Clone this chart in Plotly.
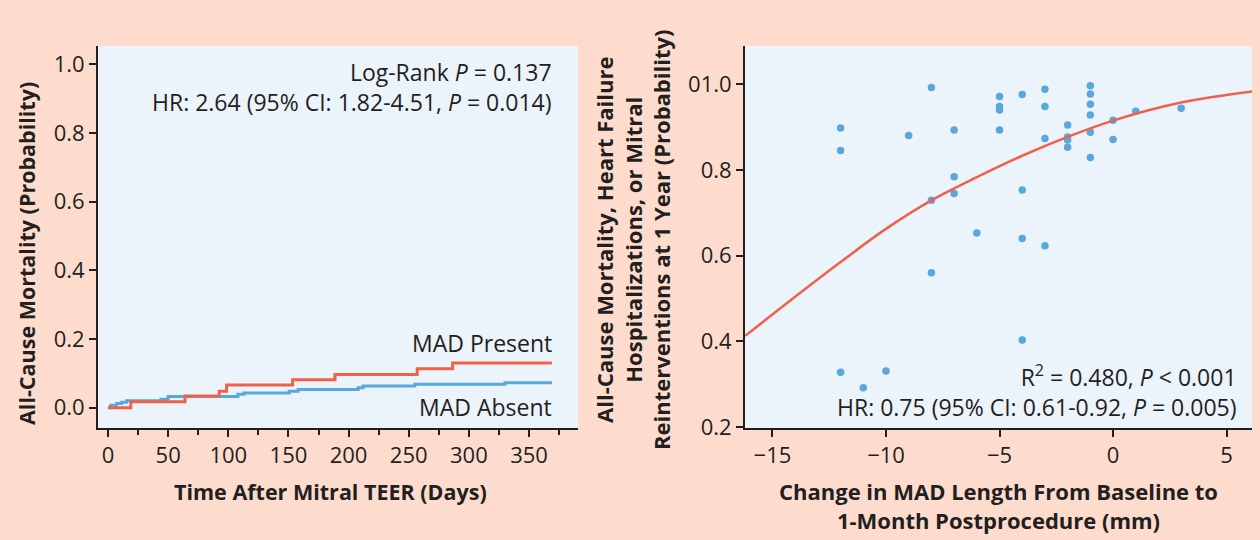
import plotly.graph_objects as go

# ---------------- Data ----------------
# Kaplan-Meier step curves (days, cumulative mortality probability)
present_days = [0, 19, 64, 92.5, 98.6, 153.5, 188.7, 257, 286.5, 369]
present_prob = [0.0, 0.0175, 0.034, 0.048, 0.066, 0.0815, 0.097, 0.1135, 0.130, 0.130]

absent_days = [0, 2.2, 7.2, 11.4, 15.5, 44, 50, 108, 113, 150.7, 158, 208, 212, 255, 330, 369]
absent_prob = [0.0, 0.007, 0.012, 0.016, 0.020, 0.025, 0.033, 0.039, 0.043, 0.048, 0.053,
               0.058, 0.063, 0.068, 0.073, 0.073]

# Scatter: change in MAD length (mm) vs probability of composite outcome
mad_change = [-12, -12, -12, -11, -10, -9, -8, -8, -8,
              -7, -7, -7, -6, -5, -5, -5, -5,
              -4, -4, -4, -4, -3, -3, -3, -3,
              -2, -2, -2, -2, -1, -1, -1, -1, -1, -1,
              0, 0, 1, 3]
outcome_prob = [0.898, 0.845, 0.328, 0.292, 0.331, 0.880, 0.992, 0.729, 0.560,
                0.893, 0.784, 0.745, 0.653, 0.971, 0.948, 0.940, 0.893,
                0.976, 0.753, 0.640, 0.403, 0.988, 0.948, 0.873, 0.623,
                0.905, 0.877, 0.870, 0.853, 0.996, 0.977, 0.953, 0.928, 0.888, 0.829,
                0.916, 0.871, 0.937, 0.944]

# Fitted curve
fit_x = [-16.2, -14.1, -12.0, -10.1, -8.0, -6.0, -4.0, -2.0, 0.0, 3.0, 6.15]
fit_y = [0.413, 0.500, 0.585, 0.659, 0.729, 0.783, 0.833, 0.877, 0.915, 0.957, 0.983]

left_yticks = [0.0, 0.2, 0.4, 0.6, 0.8, 1.0]
left_yticklabels = ["0.0", "0.2", "0.4", "0.6", "0.8", "1.0"]
left_xticks = [0, 50, 100, 150, 200, 250, 300, 350]
right_yticks = [0.2, 0.4, 0.6, 0.8, 1.0]
right_yticklabels = ["0.2", "0.4", "0.6", "0.8", "01.0"]
right_xticks = [-15, -10, -5, 0, 5]

# ---------------- Style ----------------
W, H = 1260, 540
PAGE_BG = "#FDDCCE"
PLOT_BG = "#EBF3FB"
RED = "#F0604A"
BLUE = "#5AA7DE"
DARK = "#231F20"
FONT = "Open Sans"

def fx(px):
    return px / W

def fy(py):
    return 1 - py / H

fig = go.Figure()

fig.add_trace(go.Scatter(x=absent_days, y=absent_prob, mode="lines",
                         line=dict(color=BLUE, width=3, shape="hv"),
                         xaxis="x", yaxis="y", showlegend=False))
fig.add_trace(go.Scatter(x=present_days, y=present_prob, mode="lines",
                         line=dict(color=RED, width=3, shape="hv"),
                         xaxis="x", yaxis="y", showlegend=False))

fig.add_trace(go.Scatter(x=mad_change, y=outcome_prob, mode="markers",
                         marker=dict(color=BLUE, size=7.5),
                         xaxis="x2", yaxis="y2", showlegend=False))
fig.add_trace(go.Scatter(x=fit_x, y=fit_y, mode="lines",
                         line=dict(color=RED, width=2.5, shape="spline"),
                         xaxis="x2", yaxis="y2", showlegend=False))

axis_common = dict(showgrid=False, zeroline=False, showline=True, linecolor=DARK,
                   linewidth=2, ticks="outside", tickcolor=DARK, tickwidth=2,
                   ticklen=7, tickfont=dict(family=FONT, size=22, color=DARK),
                   automargin=False)

fig.update_layout(
    width=W, height=H,
    paper_bgcolor=PAGE_BG, plot_bgcolor=PLOT_BG,
    margin=dict(l=0, r=0, t=0, b=0),
    font=dict(family=FONT, color=DARK),
    xaxis=dict(domain=[fx(98), fx(578)], range=[-8.3, 390.7], anchor="y",
               tickvals=left_xticks,
               minor=dict(dtick=25, tick0=0, ticks="outside", ticklen=5,
                          tickcolor=DARK, tickwidth=2),
               **axis_common),
    yaxis=dict(domain=[fy(428), fy(46)], range=[-0.059, 1.053], anchor="x",
               tickvals=left_yticks, ticktext=left_yticklabels, **axis_common),
    xaxis2=dict(domain=[fx(745), fx(1252)], range=[-16.21, 6.12], anchor="y2",
                tickvals=right_xticks, **axis_common),
    yaxis2=dict(domain=[fy(428), fy(46)], range=[0.198, 1.089], anchor="x2",
                tickvals=right_yticks, ticktext=right_yticklabels, **axis_common),
)

ann_font = dict(family=FONT, size=23, color=DARK)
title_font = dict(family=FONT, size=21.5, color=DARK)

def note(text, px, py, xanchor="right", font=ann_font, **kw):
    fig.add_annotation(text=text, x=fx(px), y=fy(py), xref="paper", yref="paper",
                       xanchor=xanchor, yanchor="middle", showarrow=False,
                       font=font, **kw)

note("Log-Rank <i>P</i> = 0.137<br>HR: 2.64 (95% CI: 1.82-4.51, <i>P</i> = 0.014)",
     554, 87.5, align="right")
note("MAD Present", 554, 343)
note("MAD Absent", 554, 407)
note("R<sup>2</sup> = 0.480, <i>P</i> &lt; 0.001<br>"
     "HR: 0.75 (95% CI: 0.61-0.92, <i>P</i> = 0.005)", 1239, 391, align="right")

note("<b>All-Cause Mortality (Probability)</b>", 27, 254, xanchor="center",
     font=title_font, textangle=-90)
note("<b>Time After Mitral TEER (Days)</b>", 330, 491, xanchor="center", font=title_font)
note("<b>All-Cause Mortality, Heart Failure<br>Hospitalizations, or Mitral<br>"
     "Reinterventions at 1 Year (Probability)</b>", 632, 240, xanchor="center",
     font=dict(family=FONT, size=22, color=DARK), textangle=-90)
note("<b>Change in MAD Length From Baseline to<br>1-Month Postprocedure (mm)</b>",
     998, 505, xanchor="center", font=dict(family=FONT, size=22, color=DARK))

fig.write_html("out.html",
               config={"displayModeBar": False},
               post_script="document.body.style.margin='0';document.body.style.padding='0';")
